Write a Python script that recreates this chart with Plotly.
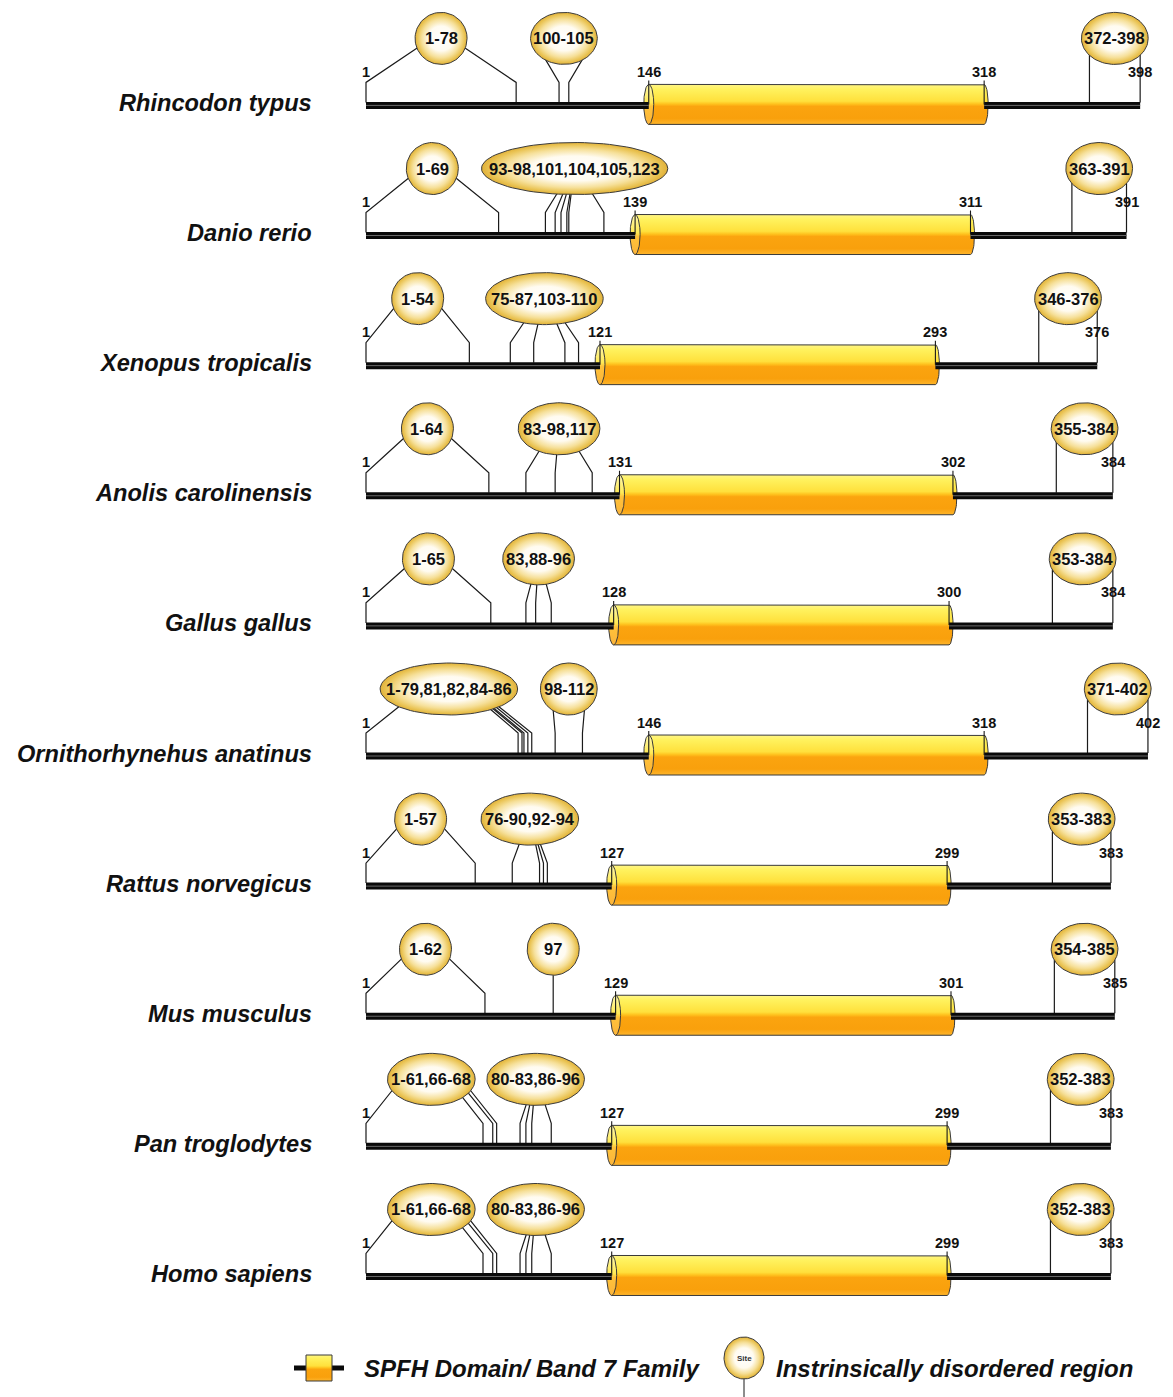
import math
import plotly.graph_objects as go

# ---------------------------------------------------------------- data
species = [
    "Rhincodon typus", "Danio rerio", "Xenopus tropicalis", "Anolis carolinensis",
    "Gallus gallus", "Ornithorhynehus anatinus", "Rattus norvegicus", "Mus musculus",
    "Pan troglodytes", "Homo sapiens",
]
protein_length = [398, 391, 376, 384, 384, 402, 383, 385, 383, 383]
spfh_start = [146, 139, 121, 131, 128, 146, 127, 129, 127, 127]
spfh_end = [318, 311, 293, 302, 300, 318, 299, 301, 299, 299]

# intrinsically disordered regions per protein (residue ranges as written)
idr_regions = [
    ["1-78", "100-105", "372-398"],
    ["1-69", "93-98,101,104,105,123", "363-391"],
    ["1-54", "75-87,103-110", "346-376"],
    ["1-64", "83-98,117", "355-384"],
    ["1-65", "83,88-96", "353-384"],
    ["1-79,81,82,84-86", "98-112", "371-402"],
    ["1-57", "76-90,92-94", "353-383"],
    ["1-62", "97", "354-385"],
    ["1-61,66-68", "80-83,86-96", "352-383"],
    ["1-61,66-68", "80-83,86-96", "352-383"],
]

legend_domain = "SPFH Domain/ Band 7 Family"
legend_idr = "Instrinsically disordered region"

# ---------------------------------------------------------------- geometry
W, H = 1173, 1397
RES1_PX = 366.0          # pixel column of residue 1
PX_PER_RES = 1.95        # horizontal scale
ROW0_Y, ROW_STEP = 105.4, 130.12
FONT = "Liberation Sans, Arial, Helvetica, sans-serif"

X_RANGE = [1 - RES1_PX / PX_PER_RES, 1 + (W - RES1_PX) / PX_PER_RES]


def rw(px):
    """horizontal pixel length -> residue units"""
    return px / PX_PER_RES


def px2x(px):
    return 1 + (px - RES1_PX) / PX_PER_RES


def sites_of(label):
    """end points of every range / single residue in a label"""
    out = []
    for part in label.split(","):
        out += [int(v) for v in part.split("-")]
    return out


def text_width(s, size):
    w = 0.0
    for ch in s:
        if ch.isdigit():
            w += 0.556
        elif ch == "-":
            w += 0.333
        elif ch == ",":
            w += 0.278
        else:
            w += 0.6
    return w * size


def ellipse(cx, cy, rx_px, ry, n=90):
    xs, ys = [], []
    for k in range(n + 1):
        t = 2 * math.pi * k / n
        xs.append(cx + rw(rx_px) * math.cos(t))
        ys.append(cy + ry * math.sin(t))
    return xs, ys


BODY_SCALE = [
    [0.0, "#FFF587"], [0.12, "#FFF25E"], [0.42, "#FFE03C"], [0.49, "#FFC21E"],
    [0.55, "#FBA40F"], [0.85, "#F9A00C"], [1.0, "#FDB52C"],
]
CAP_SCALE = [
    [0.0, "#FFF9B0"], [0.45, "#FFEA55"], [0.55, "#FFC23A"], [1.0, "#FBB43A"],
]
BUBBLE_SCALE = [
    [0.0, "#FFFFFF"], [0.48, "#FFFBF0"], [0.74, "#F6E09A"], [0.91, "#EAC455"],
    [1.0, "#E1B139"],
]

fig = go.Figure()
annotations = []

con_x, con_y = [], []
tick_x, tick_y = [], []
bb_x, bb_y = [], []
bubbles = []

for i, name in enumerate(species):
    row = ROW0_Y + ROW_STEP * i
    L, s, e = protein_length[i], spfh_start[i], spfh_end[i]

    # species name
    annotations.append(dict(
        x=314 / W, xref="paper", y=row - 2.5, yref="y", text=name, showarrow=False,
        xanchor="right", yanchor="middle",
        font=dict(family=FONT, size=23.6, color="#111111", weight="bold", style="italic"),
    ))

    # SPFH domain cylinder
    top, bot = row - 21, row + 19
    mid, half = (top + bot) / 2, (bot - top) / 2
    bx = [s, e]
    by = [top, top]
    for k in range(31):
        t = -math.pi / 2 + math.pi * k / 30
        bx.append(e + rw(4) * math.cos(t))
        by.append(mid + half * math.sin(t))
    bx += [s, s]
    by += [bot, top]
    fig.add_trace(go.Scatter(
        x=bx, y=by, mode="lines", fill="toself",
        line=dict(color="#3a3a3a", width=1),
        fillgradient=dict(type="vertical", colorscale=BODY_SCALE, start=top, stop=bot),
        hoverinfo="skip", showlegend=False,
    ))
    cx_, cy_ = ellipse(s, mid, 5, half)
    fig.add_trace(go.Scatter(
        x=cx_, y=cy_, mode="lines", fill="toself",
        line=dict(color="#3a3a3a", width=1),
        fillgradient=dict(type="vertical", colorscale=CAP_SCALE, start=top, stop=bot),
        hoverinfo="skip", showlegend=False,
    ))

    # backbone outside the domain
    bb_x += [1, s, None, e, L, None]
    bb_y += [row, row, None, row, row, None]

    # position labels and ticks
    for r in (1, s, e, L):
        annotations.append(dict(
            x=r, y=row - 33.5, text=str(r), showarrow=False,
            xanchor="center", yanchor="middle",
            font=dict(family=FONT, size=14.5, color="#111111", weight="bold"),
        ))
    for r in (s, e):
        tick_x += [r, r, None]
        tick_y += [row - 25, row - 1, None]

    # disordered-region bubbles and their connectors
    for label in idr_regions[i]:
        pts = sites_of(label)
        cxr = (min(pts) + max(pts)) / 2
        cy = row - 67
        ry = 26
        rx = max(26.0, 0.56 * text_width(label, 16) + 0.5)
        bubbles.append((cxr, cy, rx, ry, label))

        single_range = ("," not in label) and len(pts) == 2
        for p in pts:
            dpx = (p - cxr) * PX_PER_RES
            if len(pts) == 1:
                ax, ay = 0.0, cy + ry
            else:
                if single_range:
                    dx = max(-0.92 * rx, min(0.92 * rx, dpx))
                    if abs(dx) < 0.55 * rx:
                        dx = math.copysign(0.55 * rx, dpx if dpx != 0 else 1)
                else:
                    dx = max(-0.92 * rx, min(0.92 * rx, 0.6 * dpx))
                ax = dx
                ay = cy + ry * math.sqrt(max(0.0, 1 - (dx / rx) ** 2)) - 0.5
            con_x += [cxr + rw(ax), p, p, None]
            con_y += [ay, row - 23, row - 3, None]

# connectors
fig.add_trace(go.Scatter(
    x=con_x, y=con_y, mode="lines", line=dict(color="#1a1a1a", width=1.2),
    hoverinfo="skip", showlegend=False,
))

# backbone: black bar with a thin grey core
fig.add_trace(go.Scatter(
    x=bb_x, y=bb_y, mode="lines", line=dict(color="#0a0a0a", width=7),
    hoverinfo="skip", showlegend=False,
))
fig.add_trace(go.Scatter(
    x=bb_x, y=bb_y, mode="lines", line=dict(color="#6a6a6a", width=1),
    hoverinfo="skip", showlegend=False,
))

# ticks at domain borders
fig.add_trace(go.Scatter(
    x=tick_x, y=tick_y, mode="lines", line=dict(color="#1a1a1a", width=1.1),
    hoverinfo="skip", showlegend=False,
))

# bubbles
for cxr, cy, rx, ry, label in bubbles:
    ex, ey = ellipse(cxr, cy, rx, ry)
    fig.add_trace(go.Scatter(
        x=ex, y=ey, mode="lines", fill="toself",
        line=dict(color="#3c3c3c", width=1),
        fillgradient=dict(type="radial", colorscale=BUBBLE_SCALE),
        hoverinfo="skip", showlegend=False,
    ))
    annotations.append(dict(
        x=cxr, y=cy, text=label, showarrow=False, xanchor="center", yanchor="middle",
        font=dict(family=FONT, size=16.5, color="#111111", weight="bold"),
    ))

# ---------------------------------------------------------------- legend
leg_y = 1368
fig.add_trace(go.Scatter(
    x=[px2x(294), px2x(344)], y=[leg_y, leg_y], mode="lines",
    line=dict(color="#0a0a0a", width=5), hoverinfo="skip", showlegend=False,
))
lx0, lx1, ly0, ly1 = px2x(306), px2x(332), 1355, 1381
fig.add_trace(go.Scatter(
    x=[lx0, lx1, lx1, lx0, lx0], y=[ly0, ly0, ly1, ly1, ly0], mode="lines", fill="toself",
    line=dict(color="#3a3a3a", width=1),
    fillgradient=dict(type="vertical", colorscale=BODY_SCALE, start=ly0, stop=ly1),
    hoverinfo="skip", showlegend=False,
))
annotations.append(dict(
    x=362 / W, xref="paper", y=leg_y, text=legend_domain, showarrow=False,
    xanchor="left", yanchor="middle",
    font=dict(family=FONT, size=24, color="#111111", weight="bold", style="italic"),
))
sx = px2x(744)
fig.add_trace(go.Scatter(
    x=[sx, sx], y=[1379, 1397], mode="lines", line=dict(color="#1a1a1a", width=1),
    hoverinfo="skip", showlegend=False,
))
ex, ey = ellipse(sx, 1358, 20, 21)
fig.add_trace(go.Scatter(
    x=ex, y=ey, mode="lines", fill="toself", line=dict(color="#3c3c3c", width=1),
    fillgradient=dict(type="radial", colorscale=BUBBLE_SCALE),
    hoverinfo="skip", showlegend=False,
))
annotations.append(dict(
    x=sx, y=1358, text="Site", showarrow=False, xanchor="center", yanchor="middle",
    font=dict(family=FONT, size=8, color="#333333", weight="bold"),
))
annotations.append(dict(
    x=774 / W, xref="paper", y=leg_y, text=legend_idr, showarrow=False,
    xanchor="left", yanchor="middle",
    font=dict(family=FONT, size=24, color="#111111", weight="bold", style="italic"),
))

fig.update_layout(
    width=W, height=H, margin=dict(l=0, r=0, t=0, b=0),
    paper_bgcolor="white", plot_bgcolor="white",
    xaxis=dict(range=X_RANGE, visible=False, fixedrange=True),
    yaxis=dict(range=[H, 0], visible=False, fixedrange=True),
    annotations=annotations, showlegend=False,
)

fig.write_html("out.html")
